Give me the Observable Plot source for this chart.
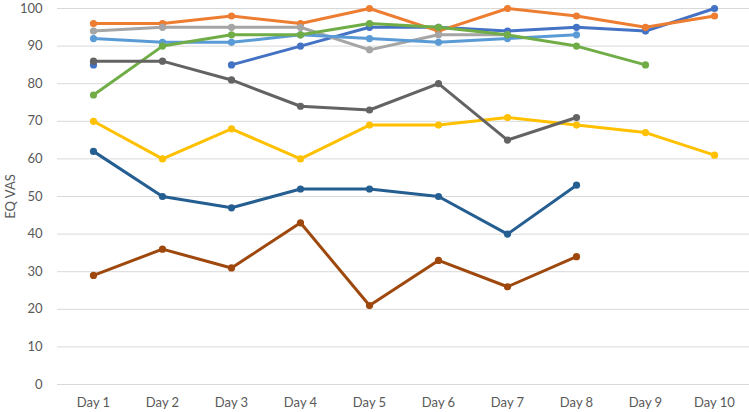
<!DOCTYPE html>
<html>
<head>
<meta charset="utf-8">
<script src="https://cdn.jsdelivr.net/npm/d3@7"></script>
<script src="https://cdn.jsdelivr.net/npm/@observablehq/plot@0.6"></script>
<style>
  html, body { margin: 0; padding: 0; background: #fff; }
  #chart svg { display: block; }
</style>
</head>
<body>
<div id="chart"></div>
<script>
const days = ["Day 1","Day 2","Day 3","Day 4","Day 5","Day 6","Day 7","Day 8","Day 9","Day 10"];
const yTicks = [0,10,20,30,40,50,60,70,80,90,100];

const seriesNames = ["S1","S2","S3","S4","S5","S6","S7","S8","S9"];
const seriesColors = ["#4472C4","#ED7D31","#A5A5A5","#FFC000","#5B9BD5","#70AD47","#255E91","#9E480E","#636363"];

const s1 = [85, null, 85, 90, 95, 95, 94, 95, 94, 100];
const s2 = [96, 96, 98, 96, 100, 94, 100, 98, 95, 98];
const s3 = [94, 95, 95, 95, 89, 93, 93, null, null, null];
const s4 = [70, 60, 68, 60, 69, 69, 71, 69, 67, 61];
const s5 = [92, 91, 91, 93, 92, 91, 92, 93, null, null];
const s6 = [77, 90, 93, 93, 96, 95, 93, 90, 85, null];
const s7 = [62, 50, 47, 52, 52, 50, 40, 53, null, null];
const s8 = [29, 36, 31, 43, 21, 33, 26, 34, null, null];
const s9 = [86, 86, 81, 74, 73, 80, 65, 71, null, null];

const allSeries = [s1, s2, s3, s4, s5, s6, s7, s8, s9];

const rows = [];
allSeries.forEach((vals, i) => {
  vals.forEach((v, j) => {
    rows.push({series: seriesNames[i], day: days[j], value: v == null ? NaN : v});
  });
});
const dotRows = rows.filter(d => !isNaN(d.value));

const font = "Lato, 'Open Sans', sans-serif";

const chart = Plot.plot({
  width: 749,
  height: 412,
  marginTop: 8,
  marginBottom: 28,
  marginLeft: 57,
  marginRight: 0,
  style: {fontFamily: font, fontSize: "13px", color: "#595959", background: "#fff"},
  x: {type: "point", domain: days, padding: 0.5, label: null},
  y: {domain: [0, 100], ticks: yTicks, label: null},
  color: {domain: seriesNames, range: seriesColors},
  marks: [
    Plot.gridY(yTicks, {stroke: "#d9d9d9", strokeOpacity: 1, strokeWidth: 1}),
    Plot.axisY(yTicks, {tickSize: 0, tickPadding: 15, fill: "#595959", fontSize: 13,
      label: "EQ VAS", labelAnchor: "center", labelArrow: "none", labelOffset: 52}),
    Plot.axisX(days, {tickSize: 0, tickPadding: 13, fill: "#595959", fontSize: 13}),
    ...seriesNames.map(name => Plot.line(rows.filter(d => d.series === name), {
      x: "day", y: "value", stroke: "series", strokeWidth: 3, strokeLinejoin: "round", strokeLinecap: "round"
    })),
    ...seriesNames.map(name => Plot.dot(dotRows.filter(d => d.series === name), {
      x: "day", y: "value", fill: "series", r: 3.6, stroke: "none"
    }))
  ]
});
document.getElementById("chart").appendChild(chart);
</script>
</body>
</html>
